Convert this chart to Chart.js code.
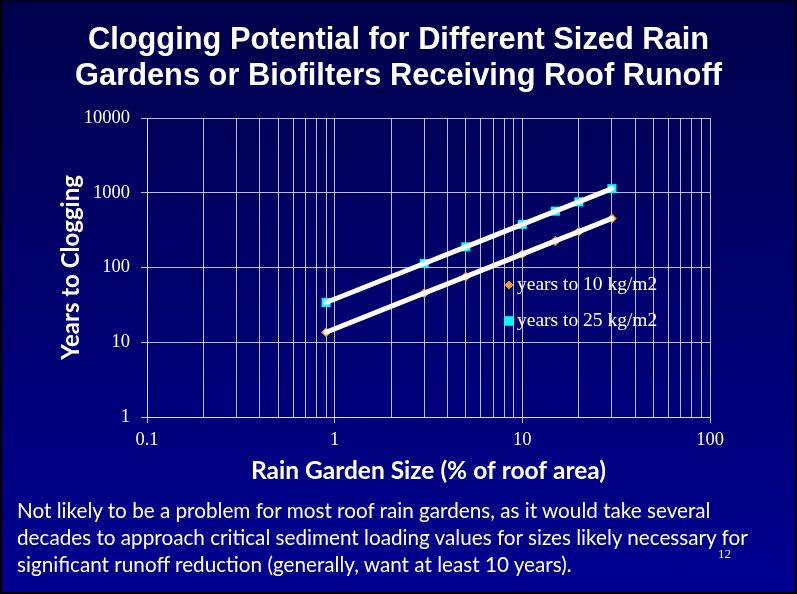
<!DOCTYPE html>
<html>
<head>
<meta charset="utf-8">
<title>Clogging Potential for Different Sized Rain Gardens</title>
<script src="https://cdn.jsdelivr.net/npm/chart.js@4.4.1/dist/chart.umd.min.js"></script>
<style>
  html, body { margin: 0; padding: 0; background: #000; }
  #slide {
    position: relative;
    width: 797px;
    height: 594px;
    overflow: hidden;
    background: linear-gradient(to bottom, #00004a 0%, #00006e 50%, #000090 100%);
  }
  #frame {
    position: absolute; left: 0; top: 0; right: 0; bottom: 0;
    box-shadow: inset 2px 1px 0 0 #000, inset -2px -2px 0 0 #000;
    pointer-events: none;
  }
  #chart { position: absolute; left: 0; top: 0; }
  #heading {
    position: absolute; left: 0; top: 21px; width: 797px;
    text-align: center; color: #fff;
    font: bold 30.8px "Liberation Sans", Arial, sans-serif;
    line-height: 36px;
  }
  #note {
    position: absolute; left: 17px; top: 497px; width: 775px;
    color: #fff; font: 20.7px Lato, "Open Sans", sans-serif;
    line-height: 27px; white-space: nowrap;
  }
  #pageNo {
    position: absolute; left: 718px; top: 546px;
    color: #fff; font: 13px "Liberation Serif", serif;
  }
</style>
</head>
<body>
<div id="slide">
  <canvas id="chart" width="797" height="594"></canvas>
  <div id="heading">Clogging Potential for Different Sized Rain<br>Gardens or Biofilters Receiving Roof Runoff</div>
  <div id="note">Not likely to be a problem for most roof rain gardens, as it would take several<br>decades to approach critical sediment loading values for sizes likely necessary for<br>significant runoff reduction (generally, want at least 10 years).</div>
  <div id="pageNo">12</div>
  <div id="frame"></div>
</div>
<script>
// Rain garden size as % of roof area
const sizes = [0.9, 3, 5, 10, 15, 20, 30];
// Years until the sediment load reaches 10 and 25 kg/m2
const years10 = [13.6, 45.4, 75.6, 151, 227, 302, 454];
const years25 = [34, 113, 189, 378, 567, 756, 1134];
const seriesLabels = ['years to 10 kg/m2', 'years to 25 kg/m2'];
// Labelled decades on each axis
const xDecades = [0.1, 1, 10, 100];
const yDecades = [1, 10, 100, 1000, 10000];

const gridColor = 'rgba(235,235,255,0.8)';
const orange = '#ff9a14';
const cyan = '#00ffff';

const pts = (xs, ys) => xs.map((x, i) => ({ x: x, y: ys[i] }));

// Minor gridlines at 2..9 within each x decade
const xGridValues = [];
xDecades.forEach((d, i) => {
  if (i === xDecades.length - 1) { xGridValues.push(d); return; }
  for (let k = 1; k <= 9; k++) xGridValues.push(Math.round(k * d * 1e6) / 1e6);
});

// Legend drawn inside the plot area
const insideLegend = {
  id: 'insideLegend',
  afterDatasetsDraw(chart, args, opts) {
    const { ctx, chartArea } = chart;
    const x0 = chartArea.left + opts.fx * (chartArea.right - chartArea.left);
    const y0 = chartArea.top + opts.fy * (chartArea.bottom - chartArea.top);
    ctx.save();
    ctx.font = opts.font;
    ctx.textBaseline = 'middle';
    ctx.textAlign = 'left';
    opts.items.forEach((idx, row) => {
      const ds = chart.data.datasets[idx];
      const y = y0 + row * opts.rowGap;
      ctx.fillStyle = ds.pointBackgroundColor;
      Chart.helpers.drawPoint(ctx, {
        pointStyle: ds.pointStyle, radius: opts.markerRadius[row], rotation: 0, borderWidth: 0
      }, x0, y);
      ctx.fill();
      ctx.fillStyle = '#fff';
      ctx.fillText(ds.label, x0 + opts.textGap, y);
    });
    ctx.restore();
  }
};

new Chart(document.getElementById('chart'), {
  type: 'scatter',
  data: {
    datasets: [
      {
        label: seriesLabels[0], data: pts(sizes, years10), showLine: false,
        pointStyle: 'rectRot', pointRadius: 5, pointBackgroundColor: orange,
        pointBorderWidth: 0, order: 1
      },
      {
        label: seriesLabels[1], data: pts(sizes, years25), showLine: false,
        pointStyle: 'rect', pointRadius: 6.4, pointBackgroundColor: cyan,
        pointBorderWidth: 0, order: 1
      },
      {
        label: seriesLabels[0] + ' trend', data: pts(sizes, years10), showLine: true,
        borderColor: '#ffffff', borderWidth: 5, borderCapStyle: 'round',
        pointRadius: 0, order: 0
      },
      {
        label: seriesLabels[1] + ' trend', data: pts(sizes, years25), showLine: true,
        borderColor: '#ffffff', borderWidth: 5, borderCapStyle: 'round',
        pointRadius: 0, order: 0
      }
    ]
  },
  options: {
    responsive: false,
    animation: false,
    events: [],
    layout: { padding: { left: 0, top: 118, right: 87, bottom: 97 } },
    plugins: {
      legend: { display: false },
      tooltip: { enabled: false },
      insideLegend: {
        fx: 0.643, fy: 0.5585, rowGap: 36, textGap: 8, markerRadius: [4.2, 6.4],
        font: '19.5px "Liberation Serif", "Times New Roman", serif',
        items: [0, 1]
      }
    },
    scales: {
      x: {
        type: 'logarithmic', position: 'bottom', min: 0.1, max: 100,
        afterBuildTicks: s => { s.ticks = xGridValues.map(v => ({ value: v })); },
        afterFit: s => { s.height = 80; },
        ticks: {
          autoSkip: false, maxRotation: 0, minRotation: 0, padding: 6,
          color: '#fff', font: { family: '"Liberation Serif", serif', size: 18.5 },
          callback: v => (xDecades.includes(v) ? String(v) : '')
        },
        grid: {
          color: gridColor, lineWidth: 1, tickLength: 6,
          tickColor: c => (c.tick && xDecades.includes(c.tick.value) ? gridColor : 'rgba(0,0,0,0)')
        },
        border: { color: gridColor, width: 1 },
        title: {
          display: true, text: 'Rain Garden Size (% of roof area)', color: '#fff',
          font: { family: 'Lato, sans-serif', weight: 'bold', size: 24.5 },
          padding: { top: 0, bottom: 11 }
        }
      },
      y: {
        type: 'logarithmic', position: 'left', min: 1, max: 10000,
        afterBuildTicks: s => { s.ticks = yDecades.map(v => ({ value: v })); },
        afterFit: s => { s.width = 147; },
        ticks: {
          autoSkip: false, padding: 11, color: '#fff',
          font: { family: '"Liberation Serif", serif', size: 18.5 },
          callback: v => String(v)
        },
        grid: { color: gridColor, lineWidth: 1, tickLength: 6, tickColor: gridColor },
        border: { color: gridColor, width: 1 },
        title: {
          display: true, text: 'Years to Clogging', color: '#fff',
          font: { family: 'Lato, sans-serif', weight: 'bold', size: 24 },
          padding: { top: 57, bottom: 0 }
        }
      }
    }
  },
  plugins: [insideLegend]
});
</script>
</body>
</html>
